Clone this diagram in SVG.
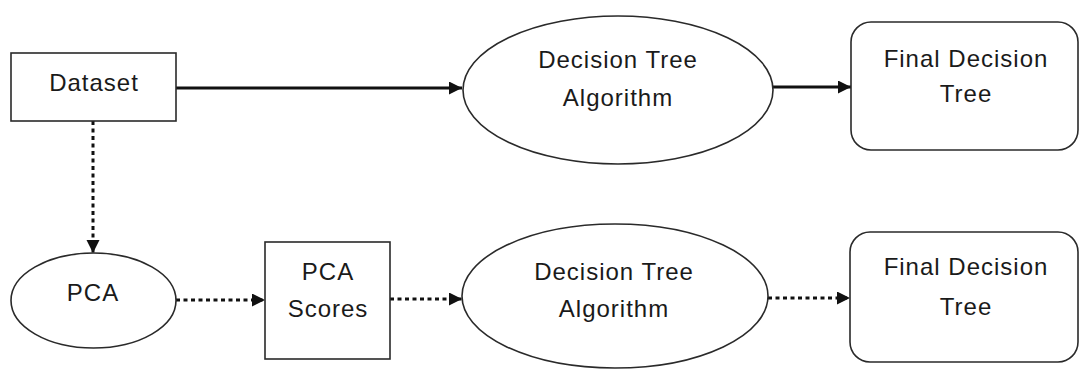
<svg xmlns="http://www.w3.org/2000/svg" width="1080" height="371" viewBox="0 0 1080 371">
<style>
.shape{fill:#fff;stroke:#2a2a2a;stroke-width:1.6}
.lbl{font-family:"Liberation Sans",Arial,sans-serif;font-size:24px;letter-spacing:1px;fill:#1a1a1a;text-anchor:middle}
.solid{stroke:#111;stroke-width:3;fill:none}
.dot{stroke:#111;stroke-width:3;fill:none;stroke-dasharray:4 3.5}
</style>
<defs>
<marker id="ah" markerUnits="userSpaceOnUse" markerWidth="14" markerHeight="14" refX="13" refY="6.5" orient="auto">
<path d="M0,0 L13,6.5 L0,13 z" fill="#111"/>
</marker>
</defs>
<rect width="1080" height="371" fill="#fff"/>
<g id="connectors">
<line class="solid" x1="176" y1="88" x2="462" y2="88" marker-end="url(#ah)"/>
<line class="solid" x1="773" y1="87" x2="851" y2="87" marker-end="url(#ah)"/>
<line class="dot" x1="93" y1="121" x2="93" y2="253" marker-end="url(#ah)"/>
<line class="dot" x1="176" y1="300" x2="265" y2="300" marker-end="url(#ah)"/>
<line class="dot" x1="390" y1="299" x2="462" y2="299" marker-end="url(#ah)"/>
<line class="dot" x1="768" y1="298" x2="850" y2="298" marker-end="url(#ah)"/>
</g>
<g id="dataset">
<rect class="shape" x="11" y="53" width="165" height="68"/>
<text class="lbl" x="94" y="91">Dataset</text>
</g>
<g id="dt-algo-top">
<ellipse class="shape" cx="618" cy="90" rx="155" ry="74"/>
<text class="lbl" x="618" y="68">Decision Tree</text>
<text class="lbl" x="618" y="106">Algorithm</text>
</g>
<g id="final-top">
<rect class="shape" x="851" y="22" width="227" height="128" rx="20" ry="20"/>
<text class="lbl" x="966" y="67">Final Decision</text>
<text class="lbl" x="966" y="102">Tree</text>
</g>
<g id="pca">
<ellipse class="shape" cx="93.5" cy="300.5" rx="82.5" ry="47.5"/>
<text class="lbl" x="93" y="301">PCA</text>
</g>
<g id="pca-scores">
<rect class="shape" x="265" y="242" width="125" height="117"/>
<text class="lbl" x="328" y="280">PCA</text>
<text class="lbl" x="328" y="317">Scores</text>
</g>
<g id="dt-algo-bottom">
<ellipse class="shape" cx="615" cy="296" rx="153" ry="72"/>
<text class="lbl" x="614" y="280">Decision Tree</text>
<text class="lbl" x="614" y="317">Algorithm</text>
</g>
<g id="final-bottom">
<rect class="shape" x="850" y="232" width="228" height="130" rx="20" ry="20"/>
<text class="lbl" x="966" y="275">Final Decision</text>
<text class="lbl" x="966" y="315">Tree</text>
</g>
</svg>
